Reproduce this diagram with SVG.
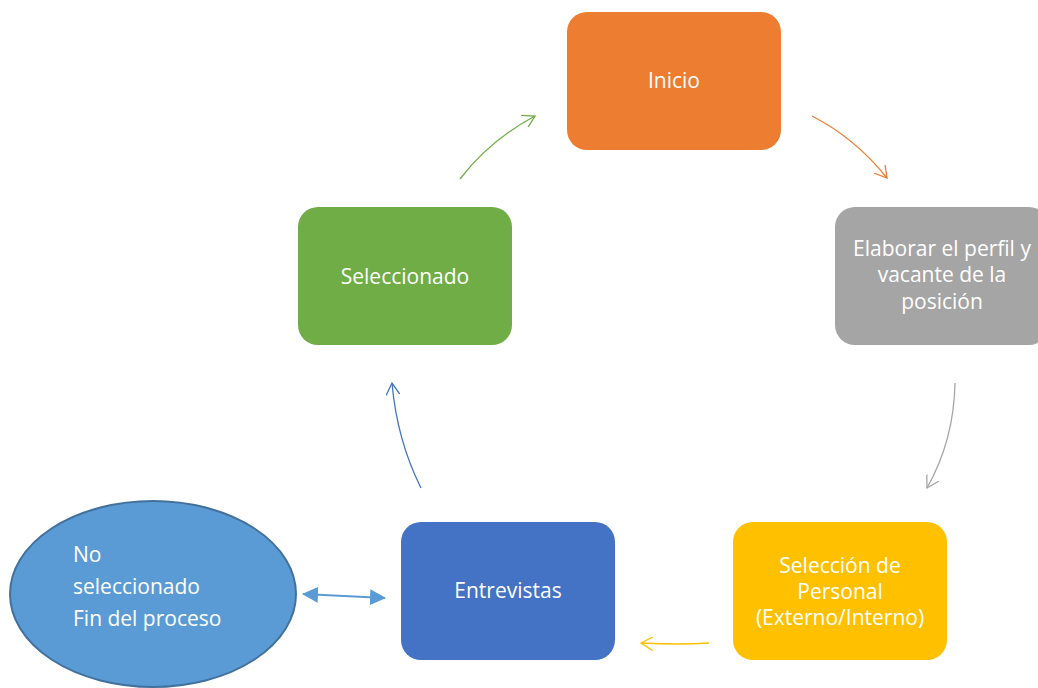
<svg xmlns="http://www.w3.org/2000/svg" width="1038" height="688" viewBox="0 0 1038 688">
<style>
.t{font-family:"Open Sans","Noto Sans",sans-serif;font-size:21px;fill:#fff;text-anchor:middle}
.tl{font-family:"Open Sans","Noto Sans",sans-serif;font-size:21px;fill:#fff}
.c{fill:none;stroke-width:1.3}
</style>
<defs>
<marker id="aO" markerWidth="14" markerHeight="14" refX="12" refY="7" orient="auto" markerUnits="userSpaceOnUse"><path d="M0,0 L12,7 L0,14" fill="none" stroke="#ED7D31" stroke-width="1.3"/></marker>
<marker id="aG" markerWidth="14" markerHeight="14" refX="12" refY="7" orient="auto" markerUnits="userSpaceOnUse"><path d="M0,0 L12,7 L0,14" fill="none" stroke="#A5A5A5" stroke-width="1.3"/></marker>
<marker id="aY" markerWidth="14" markerHeight="14" refX="12" refY="7" orient="auto" markerUnits="userSpaceOnUse"><path d="M0,0 L12,7 L0,14" fill="none" stroke="#FFC000" stroke-width="1.3"/></marker>
<marker id="aB" markerWidth="14" markerHeight="14" refX="12" refY="7" orient="auto" markerUnits="userSpaceOnUse"><path d="M0,0 L12,7 L0,14" fill="none" stroke="#4472C4" stroke-width="1.3"/></marker>
<marker id="aGr" markerWidth="14" markerHeight="14" refX="12" refY="7" orient="auto" markerUnits="userSpaceOnUse"><path d="M0,0 L12,7 L0,14" fill="none" stroke="#70AD47" stroke-width="1.3"/></marker>
<marker id="aF" markerWidth="16" markerHeight="16" refX="15" refY="8" orient="auto-start-reverse" markerUnits="userSpaceOnUse"><path d="M0,0 L16,8 L0,16 Z" fill="#5B9BD5"/></marker>
</defs>
<g id="connectors">
<path class="c" stroke="#ED7D31" d="M812,116 Q855,138 887,178" marker-end="url(#aO)"/>
<path class="c" stroke="#A5A5A5" d="M955,383 Q954,440 927,488" marker-end="url(#aG)"/>
<path class="c" stroke="#FFC000" d="M709,643 Q680,645 641,643" marker-end="url(#aY)"/>
<path class="c" stroke="#4472C4" d="M421,488 Q397,440 392,383" marker-end="url(#aB)"/>
<path class="c" stroke="#70AD47" d="M460,179 Q490,140 535,116" marker-end="url(#aGr)"/>
<path stroke="#5B9BD5" stroke-width="2" fill="none" d="M303,594 L385,598" marker-start="url(#aF)" marker-end="url(#aF)"/>
</g>
<g id="inicio"><rect x="567" y="12" width="214" height="138" rx="20" fill="#ED7D31"/><text class="t" x="674" y="88">Inicio</text></g>
<g id="elaborar"><rect x="835" y="207" width="214" height="138" rx="20" fill="#A5A5A5"/><text class="t" x="942" y="256">Elaborar el perfil y</text><text class="t" x="942" y="282">vacante de la</text><text class="t" x="942" y="309">posición</text></g>
<g id="seleccion"><rect x="733" y="522" width="214" height="138" rx="20" fill="#FFC000"/><text class="t" x="840" y="573">Selección de</text><text class="t" x="840" y="599">Personal</text><text class="t" x="840" y="625">(Externo/Interno)</text></g>
<g id="entrevistas"><rect x="401" y="522" width="214" height="138" rx="20" fill="#4472C4"/><text class="t" x="508" y="598">Entrevistas</text></g>
<g id="seleccionado"><rect x="298" y="207" width="214" height="138" rx="20" fill="#70AD47"/><text class="t" x="405" y="284">Seleccionado</text></g>
<g id="noseleccionado"><ellipse cx="153" cy="594" rx="143" ry="93" fill="#5B9BD5" stroke="#41719C" stroke-width="2"/><text class="tl" x="73" y="562">No</text><text class="tl" x="73" y="594">seleccionado</text><text class="tl" x="73" y="626">Fin del proceso</text></g>
</svg>
